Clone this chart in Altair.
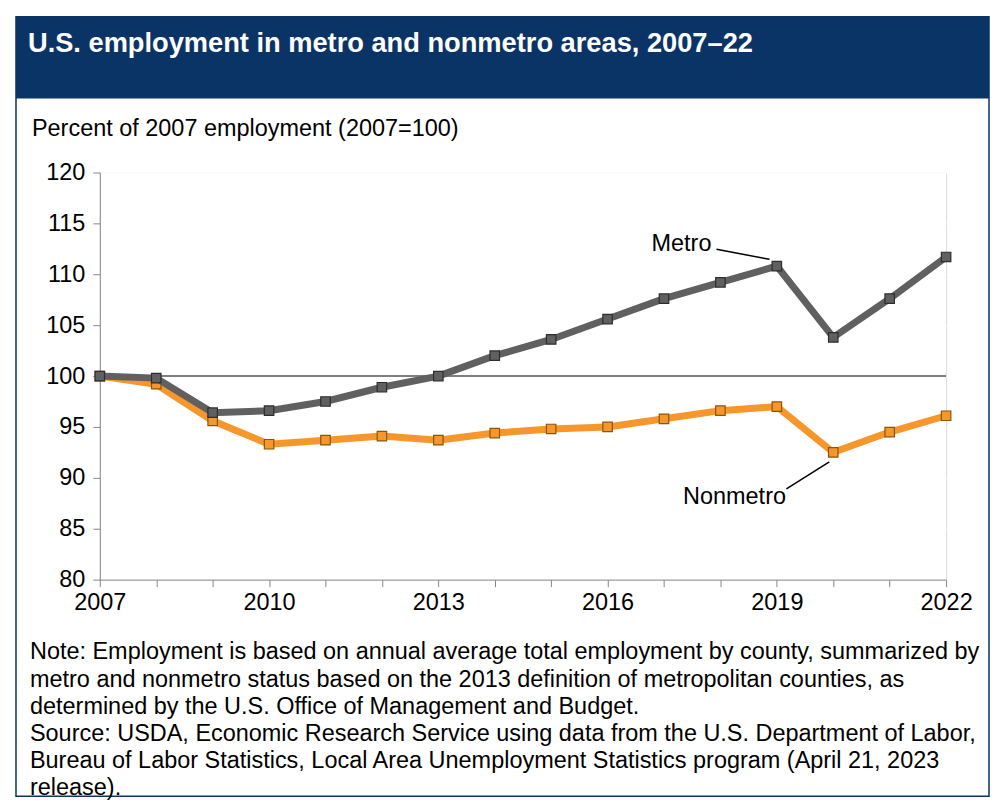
import altair as alt
import pandas as pd

years = list(range(2007, 2023))
metro = [100.0, 99.8, 96.4, 96.6, 97.5, 98.9, 100.0, 102.0, 103.6, 105.6, 107.6, 109.2, 110.8, 103.8, 107.6, 111.7]
nonmetro = [100.0, 99.2, 95.6, 93.3, 93.7, 94.1, 93.7, 94.4, 94.8, 95.0, 95.8, 96.6, 97.0, 92.5, 94.5, 96.1]

title_text = "U.S. employment in metro and nonmetro areas, 2007\u201322"
y_title = "Percent of 2007 employment (2007=100)"
note_lines = [
    "Note: Employment is based on annual average total employment by county, summarized by",
    "metro and nonmetro status based on the 2013 definition of metropolitan counties, as",
    "determined by the U.S. Office of Management and Budget.",
    "Source: USDA, Economic Research Service using data from the U.S. Department of Labor,",
    "Bureau of Labor Statistics, Local Area Unemployment Statistics program (April 21, 2023",
    "release).",
]
y_ticks = [80, 85, 90, 95, 100, 105, 110, 115, 120]

# annotation labels and leader lines (data coordinates)
label_names = ["Metro", "Nonmetro"]
label_x = [2017.31, 2018.25]
label_y = [113.0, 88.15]
leader_x1 = [2017.93, 2019.17]
leader_y1 = [112.45, 88.92]
leader_x2 = [2018.87, 2019.93]
leader_y2 = [111.47, 91.57]

FONT = "Liberation Sans"
FS = 23.5
NAVY = "#0b3466"
GRAY = "#606060"
ORANGE = "#f7962a"

df = pd.DataFrame({
    "year": years * 2,
    "value": metro + nonmetro,
    "series": ["Metro"] * len(years) + ["Nonmetro"] * len(years),
})
df_metro = df[df.series == "Metro"]
df_non = df[df.series == "Nonmetro"]

labels_df = pd.DataFrame({"name": label_names, "x": label_x, "y": label_y})
leaders_df = pd.DataFrame({"x": leader_x1, "y": leader_y1, "x2": leader_x2, "y2": leader_y2})

xscale = alt.Scale(domain=[2007, 2022], nice=False, zero=False)
yscale = alt.Scale(domain=[80, 120], nice=False, zero=False)

xaxis = alt.Axis(
    values=years, format="d", grid=False, title=None,
    labelExpr="datum.value % 3 == 0 ? datum.label : ''",
    labelFontSize=FS, labelPadding=4, tickSize=7, labelFlush=False,
)
yaxis = alt.Axis(
    values=y_ticks, grid=True, gridColor="white", gridWidth=1.5, title=None,
    labelFontSize=FS, labelPadding=8, tickSize=7,
)

one = pd.DataFrame({"a": [0]})

box = alt.Chart(one).mark_rect(
    fillOpacity=0, stroke=NAVY, strokeWidth=1.5
).encode(
    x=alt.value(-84), x2=alt.value(891), y=alt.value(-156), y2=alt.value(625)
)
header = alt.Chart(one).mark_rect(fill=NAVY).encode(
    x=alt.value(-84), x2=alt.value(891), y=alt.value(-156), y2=alt.value(-74)
)
title = alt.Chart(one).mark_text(
    text=title_text, font=FONT, fontSize=27.3, fontWeight="bold", color="white",
    align="left", baseline="middle"
).encode(x=alt.value(-72), y=alt.value(-129))
ytitle = alt.Chart(one).mark_text(
    text=y_title, font=FONT, fontSize=FS, color="black",
    align="left", baseline="middle"
).encode(x=alt.value(-68), y=alt.value(-44))
notes = alt.Chart(one).mark_text(
    text=note_lines, font=FONT, fontSize=FS, color="black",
    align="left", baseline="middle", lineHeight=27.2
).encode(x=alt.value(-70), y=alt.value(481))

ref = alt.Chart(pd.DataFrame({"v": [100]})).mark_rule(
    color="#555555", strokeWidth=1.5
).encode(y=alt.Y("v:Q", scale=yscale, axis=yaxis))

def series_layer(d, color, stroke):
    line = alt.Chart(d).mark_line(color=color, strokeWidth=7).encode(
        x=alt.X("year:Q", scale=xscale, axis=xaxis),
        y=alt.Y("value:Q", scale=yscale, axis=yaxis),
    )
    pts = alt.Chart(d).mark_point(
        shape="square", filled=True, fill=color, stroke=stroke, strokeWidth=1.2,
        size=90, opacity=1
    ).encode(
        x=alt.X("year:Q", scale=xscale, axis=xaxis),
        y=alt.Y("value:Q", scale=yscale, axis=yaxis),
    )
    return line + pts

non_layer = series_layer(df_non, ORANGE, "#8a5608")
metro_layer = series_layer(df_metro, GRAY, "#2e2e2e")

labels = alt.Chart(labels_df).mark_text(
    font=FONT, fontSize=FS, color="black", align="center", baseline="middle"
).encode(
    x=alt.X("x:Q", scale=xscale, axis=xaxis),
    y=alt.Y("y:Q", scale=yscale, axis=yaxis),
    text="name:N",
)
leaders = alt.Chart(leaders_df).mark_rule(color="black", strokeWidth=1.5).encode(
    x=alt.X("x:Q", scale=xscale, axis=xaxis),
    y=alt.Y("y:Q", scale=yscale, axis=yaxis),
    x2="x2:Q", y2="y2:Q",
)

chart = alt.layer(
    box, header, title, ytitle, notes, ref, non_layer, metro_layer, leaders, labels
).properties(
    width=848, height=408,
    autosize=alt.AutoSizeParams(type="none"),
    padding={"left": 92, "top": 164, "right": 46, "bottom": 220},
).configure_view(
    fill="#efefef", stroke=None
).configure_axis(
    labelFont=FONT, labelColor="black", tickColor="black", domainColor="black",
    domainWidth=1.5, tickWidth=1.5,
).configure(background="white")

chart.save("out.html", embed_options={"renderer": "svg", "actions": False})
